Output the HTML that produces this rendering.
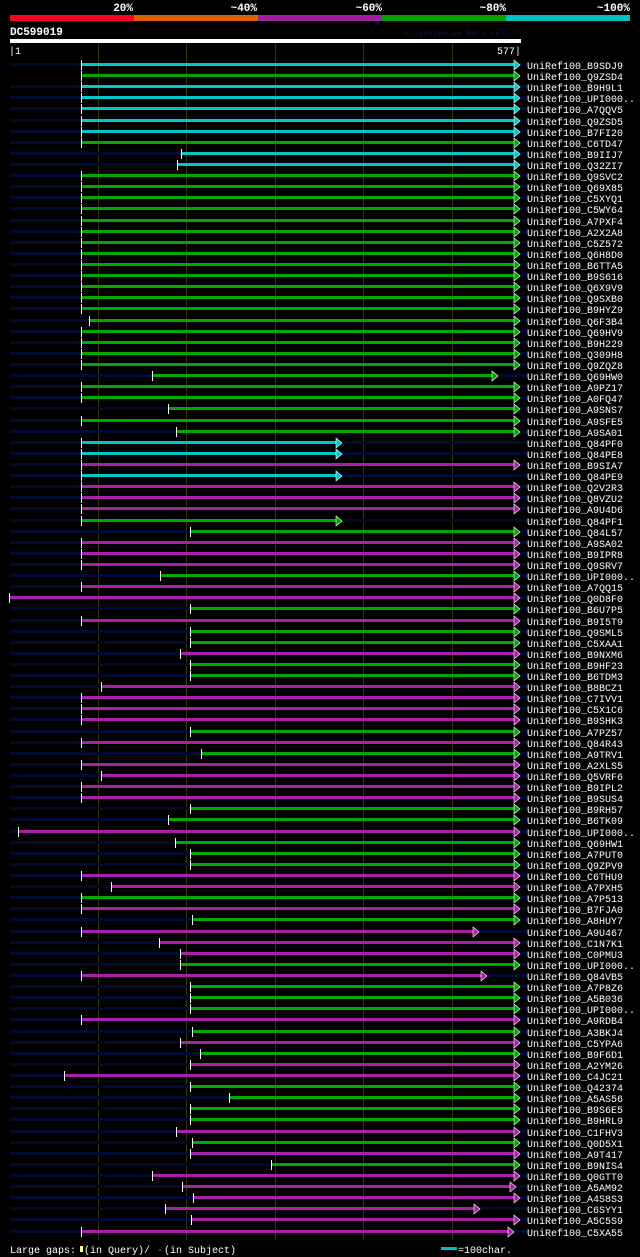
<!DOCTYPE html>
<html><head><meta charset="utf-8"><style>
body{margin:0;background:#000;width:640px;height:1257px;overflow:hidden}
svg{display:block}
text{font-family:"Liberation Mono",monospace}
</style></head><body>
<svg id="chart" width="640" height="1257" viewBox="0 0 640 1257">
<rect x="0" y="0" width="640" height="1257" fill="#000"/>
<g>
<text x="133" y="11" fill="#fff" font-size="11" font-weight="bold" text-anchor="end">20%</text>
<text x="257" y="11" fill="#fff" font-size="11" font-weight="bold" text-anchor="end">~40%</text>
<text x="382" y="11" fill="#fff" font-size="11" font-weight="bold" text-anchor="end">~60%</text>
<text x="506" y="11" fill="#fff" font-size="11" font-weight="bold" text-anchor="end">~80%</text>
<text x="630" y="11" fill="#fff" font-size="11" font-weight="bold" text-anchor="end">~100%</text>
<rect x="10" y="15" width="124" height="6" fill="#ff0020"/>
<rect x="134" y="15" width="124" height="6" fill="#e06000"/>
<rect x="258" y="15" width="124" height="6" fill="#a020a0"/>
<rect x="382" y="15" width="124" height="6" fill="#00a000"/>
<rect x="506" y="15" width="124" height="6" fill="#00c0c0"/>
</g>
<text x="10" y="35" fill="#fff" font-size="11" font-weight="bold">DC599019</text>
<text x="404" y="36" fill="#101040" font-size="8">AlignView.pm Beta rel.7</text>
<rect x="10" y="39" width="511" height="4" fill="#fff"/>
<text x="9" y="54" fill="#fff" font-size="10">|1</text>
<text x="521" y="54" fill="#fff" font-size="10" text-anchor="end">577|</text>
<g id="grid"></g>
<g id="rows"></g>
<g>
<text x="10" y="1253" fill="#fff" font-size="10">Large gaps:</text>
<rect x="80" y="1246" width="3" height="6" fill="#ffff80"/>
<text x="84" y="1253" fill="#fff" font-size="10">(in Query)/</text>
<text x="157" y="1253" fill="#00c0c0" font-size="10">-</text>
<text x="164" y="1253" fill="#fff" font-size="10">(in Subject)</text>
<rect x="441" y="1247" width="16" height="3" fill="#00c0c0"/>
<text x="458" y="1253" fill="#fff" font-size="10">=100char.</text>
</g>
</svg>
<script>
const names=["B9SDJ9","Q9ZSD4","B9H9L1","UPI000..","A7QQV5","Q9ZSD5","B7FI20","C6TD47","B9IIJ7","Q32ZI7","Q9SVC2","Q69X85","C5XYQ1","C5WY64","A7PXF4","A2X2A8","C5Z572","Q6H8D0","B6TTA5","B9S616","Q6X9V9","Q9SXB0","B9HYZ9","Q6F3B4","Q69HV9","B9H229","Q309H8","Q9ZQZ8","Q69HW0","A9PZ17","A0FQ47","A9SNS7","A9SFE5","A9SA01","Q84PF0","Q84PE8","B9SIA7","Q84PE9","Q2V2R3","Q8VZU2","A9U4D6","Q84PF1","Q84L57","A9SA02","B9IPR8","Q9SRV7","UPI000..","A7QQ15","Q0D8F0","B6U7P5","B9I5T9","Q9SML5","C5XAA1","B9NXM6","B9HF23","B6TDM3","B8BCZ1","C7IVV1","C5X1C6","B9SHK3","A7PZ57","Q84R43","A9TRV1","A2XLS5","Q5VRF6","B9IPL2","B9SUS4","B9RH57","B6TK09","UPI000..","Q69HW1","A7PUT0","Q9ZPV9","C6THU9","A7PXH5","A7P513","B7FJA0","A8HUY7","A9U467","C1N7K1","C0PMU3","UPI000..","Q84VB5","A7P8Z6","A5B036","UPI000..","A9RDB4","A3BKJ4","C5YPA6","B9F6D1","A2YM26","C4JC21","Q42374","A5AS56","B9S6E5","B9HRL9","C1FHV3","Q0D5X1","A9T417","B9NIS4","Q0GTT0","A5AM92","A4S8S3","C6SYY1","A5C5S9","C5XA55"];
// identity class: c=cyan(~100), g=green(~80), m=magenta(~60)
const idClass=("cgcccccgcc"+"gggggggggggggggggggggggg"+"ccmcmmmggm"+"mmgmmgmggm"+"ggmmmmgmgm"+"mmmggmgggm"+"mgmgmmmgmg"+"ggmgmgmmgg"+"ggmgmgmmmm"+"mm").split("");
// query start / end positions (residues)
const qStart=[82,82,82,82,82,82,82,82,195,191,82,82,82,82,82,82,82,82,82,82,82,82,82,91,82,82,82,82,163,82,82,181,82,190,82,82,82,82,82,82,82,82,205,82,82,82,172,82,1,205,82,205,205,194,205,205,105,82,82,82,205,82,218,82,105,82,82,205,181,11,189,205,205,82,116,82,82,208,82,170,194,194,82,205,205,205,82,208,194,217,205,63,205,250,205,205,190,208,205,297,163,196,209,177,206,82];
const qEnd=[577,577,577,577,577,577,577,577,577,577,577,577,577,577,577,577,577,577,577,577,577,577,577,577,577,577,577,577,552,577,577,577,577,577,376,376,577,376,577,577,577,376,577,577,577,577,577,577,577,577,577,577,577,577,577,577,577,577,577,577,577,577,577,577,577,577,577,577,577,577,577,577,577,577,577,577,577,577,531,577,577,577,540,577,577,577,577,577,577,577,577,577,577,577,577,577,577,577,577,577,577,572,577,532,577,570];
const colors={c:"#00c8c8",g:"#00a800",m:"#a820a8"};
const x=p=>10+(p-1)*(510/576);
const y=i=>Math.round(64+i*11.11);
const NS="http://www.w3.org/2000/svg";
const grid=document.getElementById("grid");
for(let k=1;k<=5;k++){
 const l=document.createElementNS(NS,"rect");
 
 
 l.setAttribute("x",Math.round(x(k*100)));l.setAttribute("width",1);
 l.setAttribute("y",44);l.setAttribute("height",1196);
 l.setAttribute("fill","#34340e");
 grid.appendChild(l);
}
const rows=document.getElementById("rows");
names.forEach((n,i)=>{
 const g=document.createElementNS(NS,"g");
 
 
 const yy=y(i), col=colors[idClass[i]], xs=Math.round(x(qStart[i])), xe=Math.round(x(qEnd[i]));
 if(i!==1){
  const bg=document.createElementNS(NS,"rect");
  bg.setAttribute("x",10);bg.setAttribute("y",yy-1);bg.setAttribute("width",520);bg.setAttribute("height",3);bg.setAttribute("fill","#000a30");
  g.appendChild(bg);
 }
 const bar=document.createElementNS(NS,"rect");
 bar.setAttribute("x",xs);bar.setAttribute("y",yy-1);bar.setAttribute("width",Math.max(0,xe-xs-5));bar.setAttribute("height",3);bar.setAttribute("fill",col);
 g.appendChild(bar);
 const tick=document.createElementNS(NS,"rect");
 tick.setAttribute("x",xs-1);tick.setAttribute("y",yy-4);tick.setAttribute("width",1);tick.setAttribute("height",10);tick.setAttribute("fill","#fff");
 g.appendChild(tick);
 const ar=document.createElementNS(NS,"polygon");
 ar.setAttribute("points",`${xe-6},${yy-4} ${xe},${yy+1} ${xe-6},${yy+6}`);
 ar.setAttribute("fill",col);ar.setAttribute("stroke","#fff");ar.setAttribute("stroke-width","0.6");
 g.appendChild(ar);
 const t=document.createElementNS(NS,"text");
 
 
 t.setAttribute("x",527);t.setAttribute("y",yy+5);t.setAttribute("fill","#fff");t.setAttribute("font-size","10");
 t.textContent="UniRef100_"+n;
 g.appendChild(t);
 rows.appendChild(g);
});
</script>
</body></html>
